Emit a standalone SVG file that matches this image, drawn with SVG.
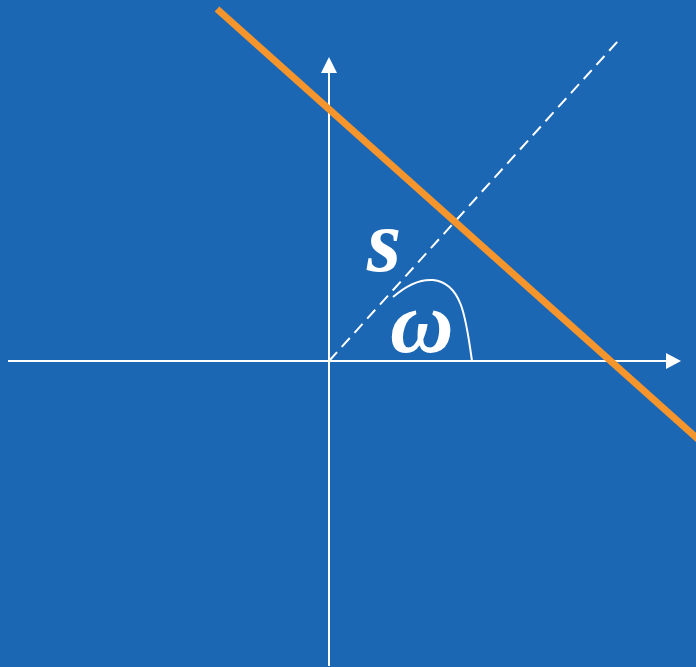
<svg xmlns="http://www.w3.org/2000/svg" width="696" height="667" viewBox="0 0 696 667">
<style>
.ax{stroke:#fff;stroke-width:2;fill:none}
.lbl{font-family:"Liberation Serif","Times New Roman",serif;font-style:italic;font-weight:bold;fill:#fff;font-size:88px}
</style>
<rect width="696" height="667" fill="#1c67b4"/>
<g id="axes">
<line class="ax" x1="8" y1="361" x2="667" y2="361"/>
<polygon points="681,361 666,353 666,369" fill="#fff"/>
<line class="ax" x1="329" y1="666" x2="329" y2="72"/>
<polygon points="329,57 321,73 337,73" fill="#fff"/>
</g>
<g id="connectors">
<line x1="329" y1="361" x2="618" y2="41" stroke="#fff" stroke-width="2" stroke-dasharray="12,7"/>
<line x1="217" y1="9" x2="700" y2="441" stroke="#f7952d" stroke-width="7"/>
<path class="ax" d="M393,297 C408,284 420,279 433,280 C462,283 466,318 472,361"/>
</g>
<g id="labels">
<text class="lbl" x="367" y="271">s</text>
<text class="lbl" x="390" y="352">ω</text>
</g>
</svg>
